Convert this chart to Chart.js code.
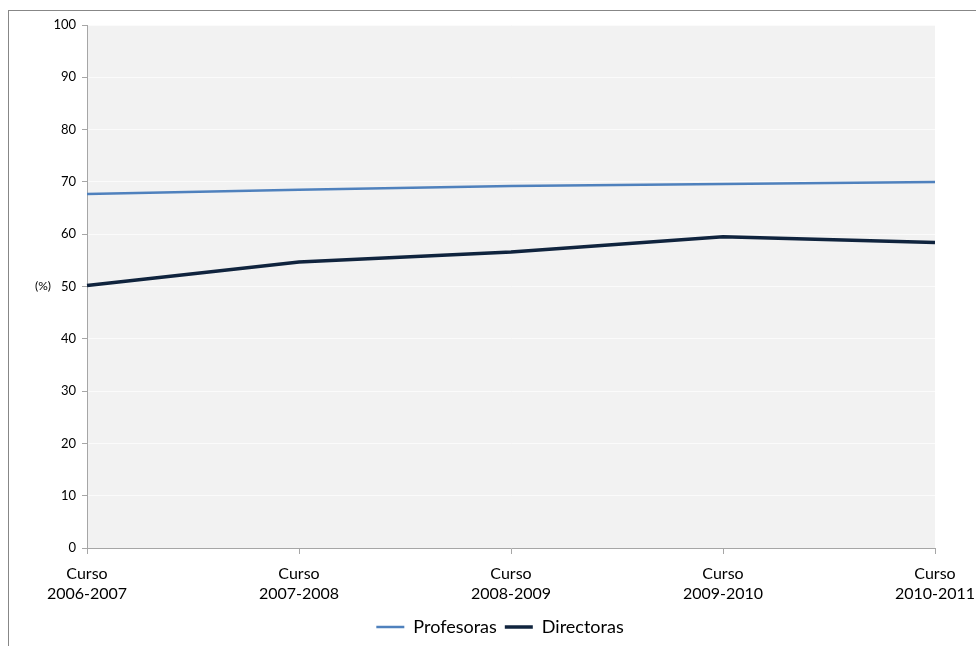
<!DOCTYPE html>
<html>
<head>
<meta charset="utf-8">
<script src="https://cdn.jsdelivr.net/npm/chart.js@4.4.0/dist/chart.umd.min.js"></script>
<style>
  body { margin:0; background:#fff; }
  canvas { display:block; }
</style>
</head>
<body>
<canvas id="chart" width="976" height="646"></canvas>
<script>
// --- data ---
const CURSOS = [["Curso","2006-2007"],["Curso","2007-2008"],["Curso","2008-2009"],["Curso","2009-2010"],["Curso","2010-2011"]];
const PROFESORAS = [67.7, 68.5, 69.2, 69.6, 70.0];
const DIRECTORAS = [50.2, 54.7, 56.6, 59.5, 58.4];
const Y_TICKS = [0,10,20,30,40,50,60,70,80,90,100];

const FONT = "Lato, 'Open Sans', sans-serif";

// frame + plot background + (%) label
const decor = {
  id: "decor",
  afterLayout(chart){
    // nudge the legend a bit right, like the original
    chart.legend.left += 12;
    chart.legend.right += 12;
  },
  beforeDraw(chart){
    const c = chart.ctx, a = chart.chartArea;
    c.save();
    c.fillStyle = "#f2f2f2";
    c.fillRect(a.left, a.top, a.right - a.left, a.bottom - a.top);
    c.restore();
  },
  afterDraw(chart){
    const c = chart.ctx;
    c.save();
    c.strokeStyle = "#878787";
    c.lineWidth = 1;
    c.strokeRect(8.5, 10.5, 1000, 700);
    c.fillStyle = "#000";
    c.font = "12px " + FONT;
    c.textAlign = "center";
    c.textBaseline = "middle";
    c.fillText("(%)", 43, chart.scales.y.getPixelForValue(50));
    c.restore();
  }
};

new Chart(document.getElementById("chart"), {
  type: "line",
  data: {
    labels: CURSOS,
    datasets: [
      {label:"Profesoras", data:PROFESORAS, borderColor:"#4f81bd", backgroundColor:"#4f81bd", borderWidth:2.5, pointRadius:0, tension:0},
      {label:"Directoras", data:DIRECTORAS, borderColor:"#10243e", backgroundColor:"#10243e", borderWidth:3.5, pointRadius:0, tension:0}
    ]
  },
  options: {
    responsive: false,
    animation: false,
    layout: { padding: {top:25, right:0, bottom:0, left:0} },
    plugins: {
      tooltip: {enabled:false},
      legend: {
        position: "bottom",
        labels: {
          usePointStyle: true, pointStyle: "line", pointStyleWidth: 28,
          color: "#000", font: {family: FONT, size: 18}, padding: 8
        }
      }
    },
    scales: {
      x: {
        offset: false,
        grid: {drawOnChartArea:false, drawTicks:true, tickLength:6, tickColor:"#a6a6a6"},
        border: {color:"#a6a6a6", width:1},
        ticks: {color:"#000", font:{family:FONT, size:16, lineHeight:1.3}, maxRotation:0, autoSkip:false, padding:9},
        afterFit(s){ s.height = 62; s.paddingLeft = 0; s.paddingRight = 0; }
      },
      y: {
        min: 0, max: 100,
        afterBuildTicks(s){ s.ticks = Y_TICKS.map(v => ({value:v})); },
        grid: {color:"#fbfbfb", tickColor:"#a6a6a6", tickLength:5},
        border: {color:"#a6a6a6", width:1},
        ticks: {color:"#000", font:{family:FONT, size:13}, padding:6},
        afterFit(s){ s.width = 87; }
      },
      pad: {
        position: "right", display: true,
        grid: {display:false}, border: {display:false}, ticks: {display:false},
        afterFit(s){ s.width = 41; }
      }
    }
  },
  plugins: [decor]
});
</script>
</body>
</html>
